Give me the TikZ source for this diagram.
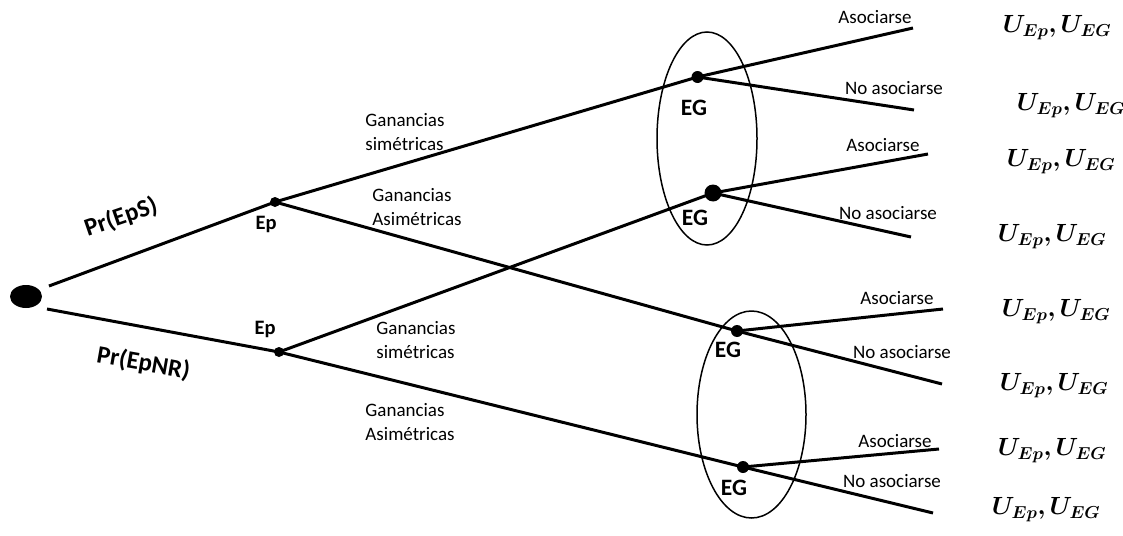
\documentclass[tikz,border=0pt]{standalone}
\usepackage{amsmath,bm}
\usepackage{fontspec}
\setmainfont{Carlito}
\usetikzlibrary{shapes.geometric}
\begin{document}
\begin{tikzpicture}[x=1pt,y=-1pt,
  branch/.style={line width=3pt},
  infoset/.style={ellipse,draw,line width=1.5pt,inner sep=0pt},
  dotnode/.style={circle,fill=black,inner sep=0pt,minimum size=#1},
  lbl/.style={inner sep=0pt,font=\fontsize{19}{24}\selectfont},
  glbl/.style={lbl,align=left},
  eglbl/.style={inner sep=0pt,font=\fontsize{23.5}{28}\selectfont\bfseries},
  eplbl/.style={inner sep=0pt,font=\fontsize{20.5}{24}\selectfont\bfseries},
  prlbl/.style={inner sep=0pt,font=\fontsize{25}{30}\selectfont\bfseries},
  pay/.style={inner sep=0pt,font=\fontsize{24}{28}\selectfont}]
\useasboundingbox (0,0) rectangle (1123,535);

% information sets
\node[infoset,minimum width=100pt,minimum height=213pt] (is1) at (707,138.5) {};
\node[infoset,minimum width=109pt,minimum height=207pt] (is2) at (751.5,414.5) {};

% positions
\coordinate (r1) at (49,286);
\coordinate (r2) at (47,309);
\coordinate (ep1) at (275,202);
\coordinate (ep2) at (279,352);
\coordinate (eg1) at (697.5,77);
\coordinate (eg2) at (713,193);
\coordinate (eg3) at (737,331);
\coordinate (eg4) at (743,467);
\coordinate (e1a) at (913,28);
\coordinate (e1n) at (914,110);
\coordinate (e2a) at (928,154);
\coordinate (e2n) at (911,237);
\coordinate (e3a) at (943,309);
\coordinate (e3n) at (942,384);
\coordinate (e4a) at (939,449);
\coordinate (e4n) at (933,513);

% branches
\draw[branch] (r1) -- (ep1);
\draw[branch] (r2) -- (ep2);
\draw[branch] (ep1) -- (eg1);
\draw[branch] (ep1) -- (eg3);
\draw[branch] (ep2) -- (eg2);
\draw[branch] (ep2) -- (eg4);
\draw[branch] (eg1) -- (e1a);
\draw[branch] (eg1) -- (e1n);
\draw[branch] (eg2) -- (e2a);
\draw[branch] (eg2) -- (e2n);
\draw[branch] (eg3) -- (e3a);
\draw[branch] (eg3) -- (e3n);
\draw[branch] (eg4) -- (e4a);
\draw[branch] (eg4) -- (e4n);

% nodes (dots)
\node[ellipse,fill=black,inner sep=0pt,minimum width=32pt,minimum height=23pt] (root) at (26,296.5) {};
\node[dotnode=10pt] (dep1) at (ep1) {};
\node[dotnode=10pt] (dep2) at (ep2) {};
\node[dotnode=12pt] (deg1) at (eg1) {};
\node[dotnode=17pt] (deg2) at (eg2) {};
\node[dotnode=12pt] (deg3) at (eg3) {};
\node[dotnode=12pt] (deg4) at (eg4) {};

% labels
\node[prlbl,rotate=19] (prs) at (121,217.5) {Pr(EpS)};
\node[prlbl,rotate=-10] (prnr) at (143.5,363.5) {Pr(EpNR)};
\node[eplbl] (lep1) at (266,224) {Ep};
\node[eplbl] (lep2) at (265,329) {Ep};

\node[glbl] (gs1) at (405,132) {Ganancias\\simétricas};
\node[glbl] (ga1) at (417,207) {Ganancias\\Asimétricas};
\node[glbl] (gs2) at (416,340) {Ganancias\\simétricas};
\node[glbl] (ga2) at (410,422) {Ganancias\\Asimétricas};

\node[eglbl] (leg1) at (694,108) {EG};
\node[eglbl] (leg2) at (695,218) {EG};
\node[eglbl] (leg3) at (728,350) {EG};
\node[eglbl] (leg4) at (734,488) {EG};

\node[lbl] (a1) at (875,17) {Asociarse};
\node[lbl] (n1) at (894,88) {No asociarse};
\node[lbl] (a2) at (883,145) {Asociarse};
\node[lbl] (n2) at (888,213) {No asociarse};
\node[lbl] (a3) at (897,298) {Asociarse};
\node[lbl] (n3) at (902,352) {No asociarse};
\node[lbl] (a4) at (895,441) {Asociarse};
\node[lbl] (n4) at (892,481) {No asociarse};

\node[pay] (u1) at (1057,28) {$\bm{U_{Ep},U_{EG}}$};
\node[pay] (u2) at (1071,106) {$\bm{U_{Ep},U_{EG}}$};
\node[pay] (u3) at (1061,162) {$\bm{U_{Ep},U_{EG}}$};
\node[pay] (u4) at (1052,237) {$\bm{U_{Ep},U_{EG}}$};
\node[pay] (u5) at (1056,312) {$\bm{U_{Ep},U_{EG}}$};
\node[pay] (u6) at (1054,386) {$\bm{U_{Ep},U_{EG}}$};
\node[pay] (u7) at (1052,451) {$\bm{U_{Ep},U_{EG}}$};
\node[pay] (u8) at (1046,510) {$\bm{U_{Ep},U_{EG}}$};
\end{tikzpicture}
\end{document}
